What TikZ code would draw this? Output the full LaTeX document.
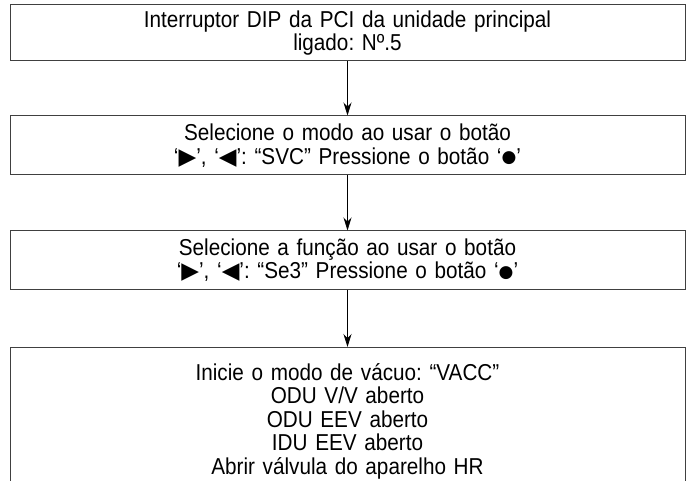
\documentclass[tikz,border=0pt]{standalone}
\usepackage{fontspec}
\setmainfont[FakeStretch=0.9]{Liberation Sans}
\newfontfamily\symfont{DejaVu Sans}
\usetikzlibrary{arrows.meta,positioning}
\newcommand{\sym}[1]{{\symfont #1}}
\newcommand{\btndot}{\raisebox{1.5pt}{\symfont\fontsize{17}{17}\selectfont ●}}

\begin{document}
\frenchspacing
\begin{tikzpicture}[x=1pt, y=-1pt,
            box/.style={rectangle, draw=black!75, line width=1pt, minimum width=675pt, text width=660pt, inner sep=0pt, align=center, font=\fontsize{23}{23.5}\selectfont},
            arrow/.style={-{Stealth[length=13pt, width=8pt]}, line width=0.8pt}
        ]
            \useasboundingbox (0,0) rectangle (691,481);

            \node[box, minimum height=56pt] (dip) at (347.5,33) {Interruptor DIP da PCI da unidade principal\\ligado: Nº.5};
            \node[box, minimum height=59pt] (mode) at (347.5,145.5) {Selecione o modo ao usar o botão\\‘\sym{▶}’, ‘\sym{◀}’: “SVC” Pressione o botão ‘\btndot’};
            \node[box, minimum height=58pt] (func) at (347.5,260) {Selecione a função ao usar o botão\\‘\sym{▶}’, ‘\sym{◀}’: “Se3” Pressione o botão ‘\btndot’};
            \node[box, anchor=north, inner ysep=16pt] (vacuum) at (347.5,347) {Inicie o modo de vácuo: “VACC”\\ODU V/V aberto\\ODU EEV aberto\\IDU EEV aberto\\Abrir válvula do aparelho HR};

            \draw[arrow] (dip) -- (mode);
            \draw[arrow] (mode) -- (func);
            \draw[arrow] (func) -- (vacuum);
        \end{tikzpicture}
\end{document}
